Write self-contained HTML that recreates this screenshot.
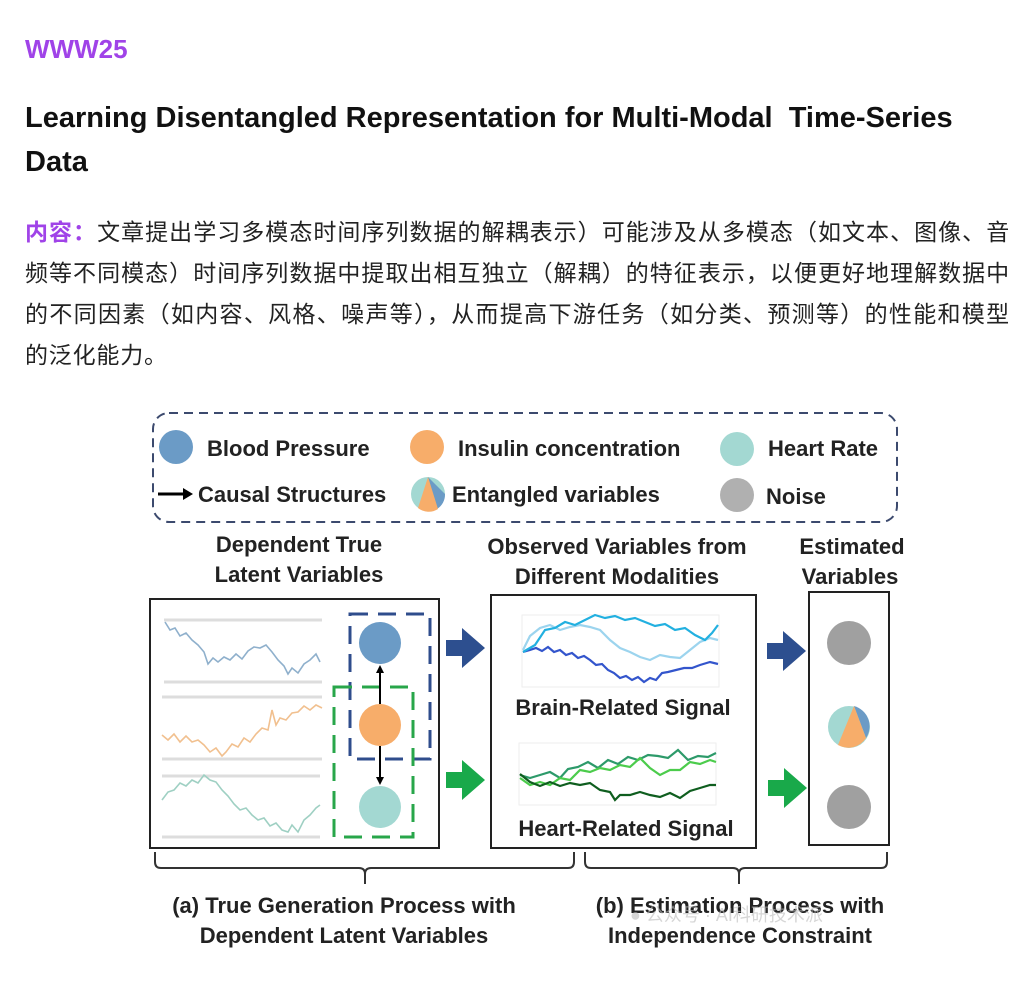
<!DOCTYPE html>
<html><head><meta charset="utf-8"><style>
body{margin:0;width:1036px;height:993px;background:#fff;font-family:"Liberation Sans","Noto Sans CJK SC",sans-serif;overflow:hidden;position:relative}
.h{position:absolute;left:25px;color:#a043e8;font-weight:bold;font-size:26px;top:34px}
.t{position:absolute;left:25px;top:96px;width:1000px;font-weight:bold;font-size:29px;line-height:44px;color:#111}
.p{position:absolute;left:25px;top:212px;width:985px;font-size:23px;line-height:41px;color:#222}
.p div{text-align:justify;text-align-last:justify;white-space:nowrap;letter-spacing:0.8px}
.p div.l{text-align-last:left}
.p b{color:#a043e8}
svg{position:absolute;left:0;top:0}
svg text{font-family:"Liberation Sans","DejaVu Sans",sans-serif;font-weight:bold;fill:#222}
</style></head><body>
<div class="h">WWW25</div>
<div class="t">Learning Disentangled Representation for Multi-Modal&nbsp; Time-Series<br>Data</div>
<div class="p"><div><b>内容：</b>文章提出学习多模态时间序列数据的解耦表示）可能涉及从多模态（如文本、图像、音</div><div>频等不同模态）时间序列数据中提取出相互独立（解耦）的特征表示，以便更好地理解数据中</div><div>的不同因素（如内容、风格、噪声等），从而提高下游任务（如分类、预测等）的性能和模型</div><div class="l">的泛化能力。</div></div>
<svg width="1036" height="993" viewBox="0 0 1036 993">
<rect x="153" y="413" width="744" height="109" rx="16" fill="none" stroke="#3c4a6e" stroke-width="2" stroke-dasharray="9,6"/>
<circle cx="176" cy="447" r="17" fill="#6b9bc6"/>
<text x="207" y="456" font-size="22">Blood Pressure</text>
<circle cx="427" cy="447" r="17" fill="#f7ad6a"/>
<text x="458" y="456" font-size="22">Insulin concentration</text>
<circle cx="737" cy="449" r="17" fill="#a3d8d2"/>
<text x="768" y="456" font-size="22">Heart Rate</text>
<line x1="158" y1="494" x2="184" y2="494" stroke="#000" stroke-width="3"/><polygon points="183,488 193,494 183,500" fill="#000"/>
<text x="198" y="502" font-size="22">Causal Structures</text>
<circle cx="428" cy="494" r="17" fill="#a3d8d2"/>
<path d="M428,477 L445,494 A17,17 0 0 1 437,509 Z" fill="#6b9bc6"/>
<path d="M428,477 L418,508 A17,17 0 0 0 438,509 Z" fill="#f7ad6a"/>
<text x="452" y="502" font-size="22">Entangled variables</text>
<circle cx="737" cy="495" r="17" fill="#b0b0b0"/>
<text x="766" y="504" font-size="22">Noise</text>
<g font-size="22" text-anchor="middle">
<text x="299" y="552">Dependent True</text><text x="299" y="582">Latent Variables</text>
<text x="617" y="554">Observed Variables from</text><text x="617" y="584">Different Modalities</text>
<text x="852" y="554">Estimated</text><text x="850" y="584">Variables</text>
</g>
<rect x="150" y="599" width="289" height="249" fill="none" stroke="#222" stroke-width="2"/>
<rect x="491" y="595" width="265" height="253" fill="none" stroke="#222" stroke-width="2"/>
<rect x="809" y="592" width="80" height="253" fill="none" stroke="#222" stroke-width="2"/>
<g stroke="#ddd" stroke-width="3">
<line x1="164" y1="620" x2="322" y2="620"/><line x1="164" y1="682" x2="322" y2="682"/>
<line x1="162" y1="697" x2="322" y2="697"/><line x1="162" y1="759" x2="322" y2="759"/>
<line x1="162" y1="776" x2="320" y2="776"/><line x1="162" y1="837" x2="320" y2="837"/>
</g>
<g fill="none" stroke-width="1.6">
<polyline stroke="#8fb0cc" points="165,622 170,630 175,628 180,636 186,633 192,640 198,645 204,652 208,664 213,658 218,662 224,657 230,660 236,654 242,659 248,651 254,647 260,648 266,645 272,652 278,660 284,666 288,674 292,668 298,673 304,664 310,660 316,654 320,662"/>
<polyline stroke="#f1c08f" points="162,735 168,740 174,734 180,742 186,736 192,742 198,740 204,745 210,752 216,748 222,756 226,752 232,744 238,747 244,738 250,742 256,734 262,728 268,730 272,710 276,725 280,718 286,720 292,713 298,712 304,706 310,710 316,705 322,708"/>
<polyline stroke="#9fd0c3" points="162,800 168,792 174,790 180,783 186,786 192,780 198,783 204,775 210,780 216,782 222,790 228,796 234,804 240,810 246,808 252,815 258,820 264,818 270,826 276,823 282,830 288,832 292,825 298,832 304,820 310,815 316,808 320,805"/>
</g>
<rect x="350" y="614" width="80" height="145" fill="none" stroke="#2f4d8c" stroke-width="3" stroke-dasharray="18,10"/>
<rect x="334" y="687" width="79" height="150" fill="none" stroke="#28a64a" stroke-width="3" stroke-dasharray="18,10"/>
<circle cx="380" cy="643" r="21" fill="#6b9bc6"/>
<circle cx="380" cy="725" r="21" fill="#f7ad6a"/>
<circle cx="380" cy="807" r="21" fill="#a3d8d2"/>
<line x1="380" y1="704" x2="380" y2="672" stroke="#000" stroke-width="2"/><polygon points="376,673 380,665 384,673" fill="#000"/>
<line x1="380" y1="746" x2="380" y2="778" stroke="#000" stroke-width="2"/><polygon points="376,777 380,785 384,777" fill="#000"/>
<polygon points="446,640 462,640 462,628 485,648 462,668 462,656 446,656" fill="#2d4f8f"/>
<polygon points="446,772 462,772 462,760 485,780 462,800 462,788 446,788" fill="#19a94a"/>
<polygon points="767,643 783,643 783,631 806,651 783,671 783,659 767,659" fill="#2d4f8f"/>
<polygon points="768,780 784,780 784,768 807,788 784,808 784,796 768,796" fill="#19a94a"/>
<rect x="522" y="615" width="197" height="72" fill="none" stroke="#eee"/>
<rect x="519" y="743" width="197" height="62" fill="none" stroke="#eee"/>
<g fill="none" stroke-width="2.2">
<polyline stroke="#3355cc" points="523,652 530,650 536,648 542,651 548,647 554,652 560,650 566,655 572,653 578,658 584,656 590,660 596,665 602,664 608,670 614,673 620,678 626,676 632,680 638,677 644,682 650,678 656,680 662,673 668,672 676,670 684,668 692,668 700,665 710,662 718,664"/>
<polyline stroke="#9cd4ee" points="523,650 530,636 540,628 550,625 560,630 570,627 580,625 590,627 600,630 610,640 620,648 630,652 640,657 650,660 660,655 670,657 680,658 690,650 700,642 710,638 718,640"/>
<polyline stroke="#22b0e0" points="523,652 535,645 545,630 555,628 565,622 575,625 585,620 595,615 605,618 615,616 625,620 635,618 645,622 655,626 665,624 675,630 685,628 695,635 705,640 712,633 718,625"/>
<polyline stroke="#2d9a6a" points="520,775 530,778 540,775 550,772 560,778 568,769 578,767 588,762 598,768 608,760 618,764 628,757 638,760 648,755 658,756 668,758 678,750 688,760 698,756 708,757 716,753"/>
<polyline stroke="#4ccc4c" points="520,778 530,785 540,782 550,785 560,778 570,780 580,770 590,772 600,768 610,770 620,765 630,767 640,758 650,768 660,775 670,770 680,770 690,762 700,764 710,760 716,762"/>
<polyline stroke="#0f5e1f" points="520,774 530,782 540,786 550,782 560,786 570,783 580,785 590,783 600,790 610,792 615,800 620,795 630,795 640,792 650,795 660,797 670,793 680,798 690,791 700,788 710,785 716,785"/>
</g>
<text x="623" y="715" font-size="22" text-anchor="middle">Brain-Related Signal</text>
<text x="626" y="836" font-size="22" text-anchor="middle">Heart-Related Signal</text>
<circle cx="849" cy="643" r="22" fill="#a0a0a0"/>
<circle cx="849" cy="727" r="21" fill="#a3d8d2"/>
<path d="M854,706 A21,21 0 0 1 866,738 Z" fill="#6b9bc6"/>
<path d="M854,706 L866,738 A21,21 0 0 1 838,745 Z" fill="#f7ad6a"/>
<circle cx="849" cy="807" r="22" fill="#a0a0a0"/>
<g fill="none" stroke="#333" stroke-width="2">
<path d="M155,852 v10 q0,6 6,6 h198 q6,0 6,6 v10 M365,874 q0,-6 6,-6 h197 q6,0 6,-6 v-10"/>
<path d="M585,852 v10 q0,6 6,6 h142 q6,0 6,6 v10 M739,874 q0,-6 6,-6 h136 q6,0 6,-6 v-10"/>
</g>
<g font-size="22" text-anchor="middle">
<text x="344" y="913">(a) True Generation Process with</text><text x="344" y="943">Dependent Latent Variables</text>
<text x="740" y="913">(b) Estimation Process with</text><text x="740" y="943">Independence Constraint</text>
</g>
<text x="630" y="921" font-size="18" style="fill:#bbb;opacity:.6;font-weight:normal">● 公众号 · AI科研技术派</text>
</svg>
</body></html>
